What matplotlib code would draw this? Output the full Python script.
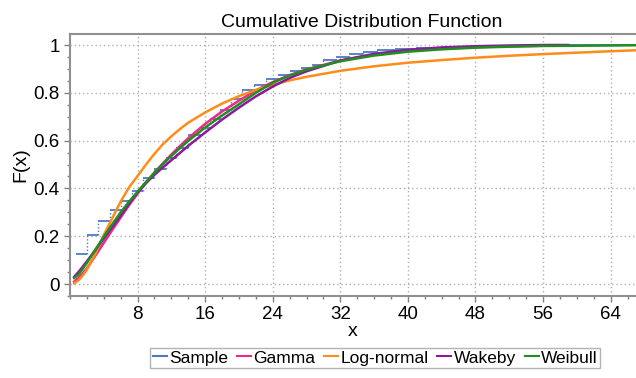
import matplotlib.pyplot as plt
from matplotlib.ticker import MultipleLocator
import numpy as np

plt.rcParams['font.family'] = ['Liberation Sans', 'DejaVu Sans']

sample_x = [0.7, 2.0, 3.3, 4.7, 6.1, 7.4, 8.7, 10.0, 11.4, 12.6, 14.0, 15.4,
            16.6, 17.8, 19.1, 20.4, 21.8, 23.2, 24.6, 26.0, 27.3, 28.7, 30.0,
            31.5, 33.0, 34.7, 36.4, 38.5, 41.0, 44.0, 48.0, 52.0, 56.0, 59.0, 66.0]
sample_f = [0.124, 0.206, 0.265, 0.31, 0.347, 0.388, 0.442, 0.48, 0.526, 0.568,
            0.622, 0.652, 0.69, 0.73, 0.775, 0.812, 0.833, 0.856, 0.875, 0.892,
            0.902, 0.915, 0.937, 0.95, 0.962, 0.972, 0.978, 0.983, 0.987, 0.99,
            0.993, 0.995, 0.997, 0.998, 1.0]

grid_x = [0.5, 1, 1.5, 2, 3, 4, 5, 6, 7, 8, 9, 10, 11, 12, 13, 14, 16, 18, 20,
          22, 24, 26, 28, 32, 36, 40, 44, 48, 52, 56, 60, 64, 67]
weibull = [0.025, 0.04, 0.063, 0.088, 0.143, 0.198, 0.25, 0.3, 0.345, 0.386,
           0.427, 0.466, 0.502, 0.536, 0.568, 0.599, 0.655, 0.705, 0.752, 0.8,
           0.842, 0.872, 0.897, 0.932, 0.956, 0.972, 0.982, 0.989, 0.993,
           0.996, 0.997, 0.998, 0.999]
lognormal = [0.003, 0.015, 0.035, 0.06, 0.125, 0.205, 0.275, 0.345, 0.405,
             0.452, 0.5, 0.545, 0.585, 0.618, 0.648, 0.675, 0.718, 0.755, 0.786,
             0.812, 0.833, 0.852, 0.867, 0.892, 0.911, 0.926, 0.937, 0.947,
             0.955, 0.962, 0.968, 0.974, 0.978]

short_x = [0.5, 1, 1.5, 2, 3, 4, 5, 6, 7, 8, 9, 10, 11, 12, 13, 14, 16, 18, 20,
           22, 24, 26, 28, 32, 36, 40, 44, 48, 52, 56, 59]
gamma = [0.01, 0.025, 0.045, 0.065, 0.118, 0.172, 0.226, 0.278, 0.33, 0.378,
         0.424, 0.466, 0.505, 0.542, 0.577, 0.61, 0.67, 0.722, 0.767, 0.81,
         0.845, 0.874, 0.898, 0.935, 0.96, 0.975, 0.985, 0.991, 0.995, 0.997,
         0.998]
wakeby = [0.03, 0.05, 0.072, 0.095, 0.142, 0.19, 0.238, 0.286, 0.336, 0.383,
          0.422, 0.457, 0.488, 0.518, 0.548, 0.578, 0.634, 0.688, 0.738, 0.785,
          0.826, 0.862, 0.89, 0.935, 0.963, 0.98, 0.99, 0.995, 0.998, 1.0, 1.0]

c_sample = '#4f78c4'
c_gamma = '#f0288c'
c_logn = '#ff8c1a'
c_wake = '#8b1a9b'
c_weib = '#1f8f1f'

fig = plt.figure(figsize=(6.36, 3.78), dpi=100)
ax = fig.add_axes([0.110, 0.217, 0.890, 0.693])
xmax = 67.0

# sample step function
ends = sample_x[1:] + [xmax]
ax.hlines(sample_f, sample_x, ends, color=c_sample, lw=1.3, zorder=3)
ax.vlines(sample_x[1:], sample_f[:-1], sample_f[1:], color=c_sample, lw=1.0,
          linestyles=(0, (1, 1.5)), zorder=3)

ax.plot(short_x, gamma, color=c_gamma, lw=1.8, zorder=4)
ax.plot(grid_x, lognormal, color=c_logn, lw=1.8, zorder=4)
ax.plot(short_x, wakeby, color=c_wake, lw=1.8, zorder=5)
ax.plot(grid_x, weibull, color=c_weib, lw=1.8, zorder=6)

ax.set_xlim(0, xmax)
ax.set_ylim(-0.05, 1.046)
ax.xaxis.set_minor_locator(MultipleLocator(2))
ax.yaxis.set_minor_locator(MultipleLocator(0.05))
ax.set_xticks([8, 16, 24, 32, 40, 48, 56, 64])
ax.set_xticklabels(['8', '16', '24', '32', '40', '48', '56', '64'])
ax.set_yticks([0, 0.2, 0.4, 0.6, 0.8, 1.0])
ax.set_yticklabels(['0', '0.2', '0.4', '0.6', '0.8', '1'])
ax.grid(True, which='major', color='#b0b0b0', linestyle=(0, (1, 2)), lw=1.0)
ax.tick_params(which='major', length=4, width=1, color='#808080', labelsize=13.5)
ax.tick_params(which='minor', length=2, width=1, color='#808080')
for s in ['left', 'bottom', 'top']:
    ax.spines[s].set_color('#909090')
    ax.spines[s].set_linewidth(1.5)
ax.spines['right'].set_visible(False)

ax.set_title('Cumulative Distribution Function', fontsize=14, pad=5, x=0.515)
ax.set_xlabel('x', fontsize=14, labelpad=0)
ax.set_ylabel('F(x)', fontsize=14, labelpad=3)

handles = [plt.Line2D([], [], color=c, lw=1.5) for c in
           [c_sample, c_gamma, c_logn, c_wake, c_weib]]
labels = ['Sample', 'Gamma', 'Log-normal', 'Wakeby', 'Weibull']
leg = fig.legend(handles, labels, loc='lower center', bbox_to_anchor=(0.590, 0.026),
                 ncol=5, fontsize=12.5, frameon=True, fancybox=False,
                 handlelength=0.8, handletextpad=0.15, columnspacing=0.5,
                 borderpad=0.15, borderaxespad=0)
leg.get_frame().set_edgecolor('#a0a0a0')
leg.get_frame().set_linewidth(1.0)

fig.savefig('out.png', dpi=100)
